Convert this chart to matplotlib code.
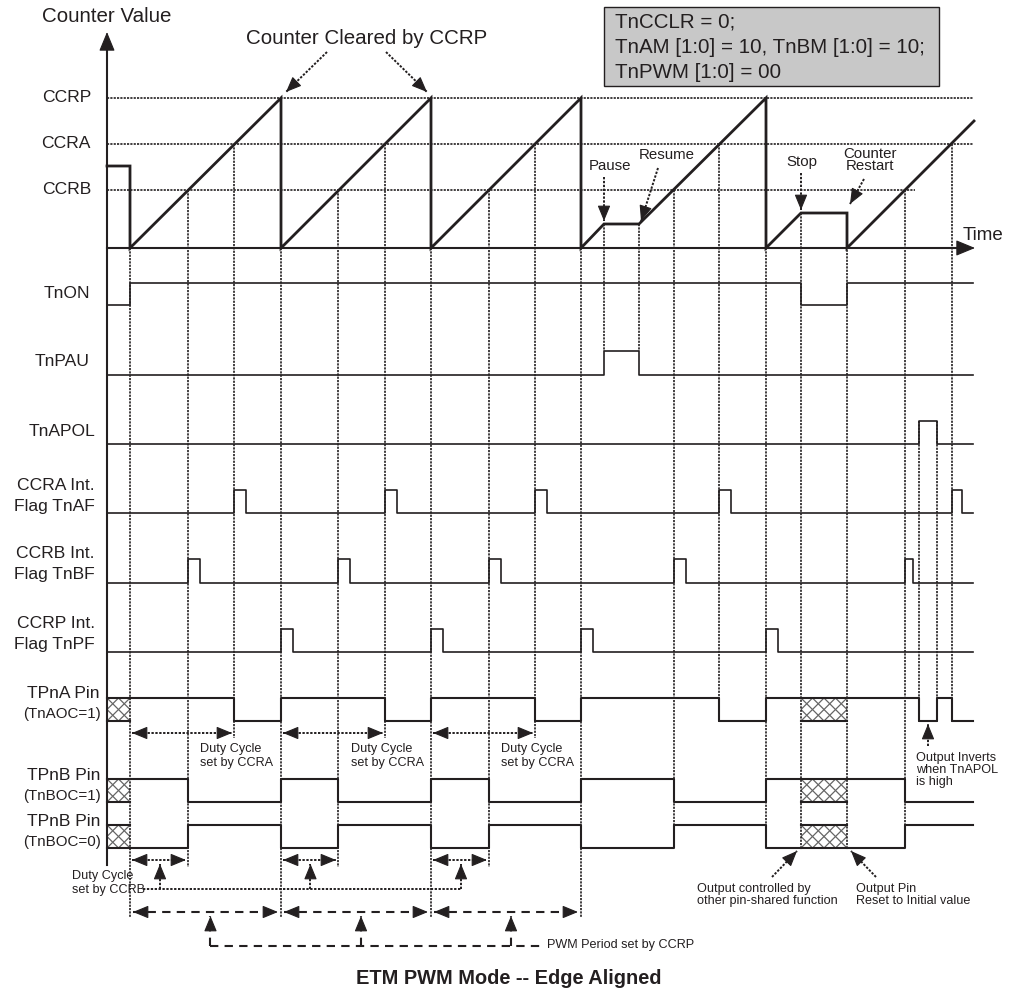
import matplotlib.pyplot as plt
from matplotlib.patches import Rectangle

plt.rcParams['font.family'] = ['Liberation Sans', 'DejaVu Sans']

ink = '#231f20'

# counter waveform: time / count value
cnt_t = [107, 130, 130, 281, 281, 431, 431, 581, 581, 604, 639, 766, 766, 801, 847, 847, 974]
cnt_v = [82, 82, 0, 150, 0, 150, 0, 150, 0, 24, 24, 150, 0, 35, 35, 0, 127]
level_names = ['CCRP', 'CCRA', 'CCRB']
level_vals = [150, 104, 58]
level_end = [973, 973, 915]

# event times
t_start = 130
ccrb_t = [188, 338, 489, 674, 905]
ccra_t = [234, 385, 535, 719, 952]
ccrp_t = [281, 431, 581, 766]
pause_t = [604, 639]
stop_t = [801, 847]
apol_t = [919, 937]
t_end = 973

# control / flag signals (edges, levels)
tnon_edges = [107, 130, 801, 847, 973]
tnon_levels = [0, 1, 0, 1]
tnpau_edges = [107, 604, 639, 973]
tnpau_levels = [0, 1, 0]
tnapol_edges = [107, 919, 937, 973]
tnapol_levels = [0, 1, 0]
tnaf_on = [234, 385, 535, 719, 952]
tnaf_off = [246, 397, 547, 731, 962]
tnbf_on = [188, 338, 489, 674, 905]
tnbf_off = [200, 350, 501, 686, 913]
tnpf_on = [281, 431, 581, 766]
tnpf_off = [293, 443, 593, 778]

# output pins (None = hatched / undefined)
tpna_edges = [107, 130, 234, 281, 385, 431, 535, 581, 719, 766, 801, 847, 919, 937, 952, 973]
tpna_levels = [None, 1, 0, 1, 0, 1, 0, 1, 0, 1, None, 1, 0, 1, 0]
tpnb1_edges = [107, 130, 188, 281, 338, 431, 489, 581, 674, 766, 801, 847, 905, 973]
tpnb1_levels = [None, 1, 0, 1, 0, 1, 0, 1, 0, 1, None, 1, 0]
tpnb0_levels = [None, 0, 1, 0, 1, 0, 1, 0, 1, 0, None, 0, 1]

fig = plt.figure(figsize=(10.12, 9.93), dpi=100)
ax = fig.add_axes([0, 0, 1, 1])
ax.set_xlim(0, 1012)
ax.set_ylim(993, 0)
ax.axis('off')

zero_y = 248


def cy(v):
    return zero_y - v


def head(x, y, dx, dy, size=12):
    ax.annotate('', xy=(x, y), xytext=(x - dx * 6, y - dy * 6),
                arrowprops=dict(arrowstyle='-|>,head_length=0.8,head_width=0.33',
                                color=ink, lw=0.8, shrinkA=0, shrinkB=0,
                                mutation_scale=size))


def dot_arrow(x0, y0, x1, y1, ls=(0, (1.2, 0.8)), lw=1.4, both=False):
    ax.plot([x0, x1], [y0, y1], color=ink, lw=lw, ls=ls)
    d = ((x1 - x0) ** 2 + (y1 - y0) ** 2) ** 0.5
    dx, dy = (x1 - x0) / d, (y1 - y0) / d
    head(x1, y1, dx, dy)
    if both:
        head(x0, y0, -dx, -dy)


def hatch_box(x0, x1, lo, hi, lw):
    box = Rectangle((x0, hi), x1 - x0, lo - hi, facecolor='white', edgecolor='none')
    ax.add_patch(box)
    h = lo - hi
    step = h / 2
    k = x0 - h
    while k < x1 + h:
        for ln in ax.plot([k, k + h], [lo, hi], color='#666666', lw=0.9):
            ln.set_clip_path(box)
        for ln in ax.plot([k, k + h], [hi, lo], color='#666666', lw=0.9):
            ln.set_clip_path(box)
        k += step
    ax.plot([x0, x1], [hi, hi], color=ink, lw=lw)
    ax.plot([x0, x1], [lo, lo], color=ink, lw=lw)


def wave(edges, levels, lo, hi, lw=1.2):
    xs, ys = [], []
    for i, lev in enumerate(levels):
        x0, x1 = edges[i], edges[i + 1]
        if lev is None:
            if xs:
                ax.plot(xs, ys, color=ink, lw=lw)
            xs, ys = [], []
            hatch_box(x0, x1, lo, hi, lw)
            continue
        y = hi if lev else lo
        xs += [x0, x1]
        ys += [y, y]
    if xs:
        ax.plot(xs, ys, color=ink, lw=lw)


def pulses(on, off, lo, hi, lw=1.2):
    edges = [107]
    levels = []
    for a, b in zip(on, off):
        edges += [a, b]
        levels += [0, 1]
    edges.append(t_end)
    levels.append(0)
    wave(edges, levels, lo, hi, lw)


dotted = (0, (1.3, 0.7))

# guide lines for compare levels
for name, v, xe in zip(level_names, level_vals, level_end):
    ax.plot([107, xe], [cy(v), cy(v)], color=ink, lw=1.2, ls=dotted)
    ax.text(91, cy(v), name, ha='right', va='center', fontsize=12.6, color=ink)

# vertical dotted event lines (x, top, bottom)
vlines = [(t_start, zero_y, 917)]
for i, t in enumerate(ccrb_t):
    vlines.append((t, cy(level_vals[2]), 867 if i < 3 else 848))
for i, t in enumerate(ccra_t):
    vlines.append((t, cy(level_vals[1]), 738 if i < 3 else 722))
for i, t in enumerate(ccrp_t):
    vlines.append((t, zero_y, 917 if i < 3 else 848))
for t in pause_t:
    vlines.append((t, cy(24), 351))
for t in stop_t:
    vlines.append((t, cy(35), 848))
for t in apol_t:
    vlines.append((t, 421, 722))

# signal rows
rows = [
    ('TnON', 305, 283, 90),
    ('TnPAU', 375, 351, 90),
    ('TnAPOL', 444, 421, 95),
    ('CCRA Int.\nFlag TnAF', 513, 490, 95),
    ('CCRB Int.\nFlag TnBF', 583, 559, 95),
    ('CCRP Int.\nFlag TnPF', 652, 629, 95),
]
for label, lo, hi, xr in rows:
    if '\n' in label:
        a, b = label.split('\n')
        ax.text(xr, hi - 5, a, ha='right', va='center', fontsize=12.6, color=ink)
        ax.text(xr, hi + 16, b, ha='right', va='center', fontsize=12.6, color=ink)
    else:
        ax.text(xr, (lo + hi) / 2 - 1, label, ha='right', va='center', fontsize=12.6, color=ink)

wave(tnon_edges, tnon_levels, 305, 283)
wave(tnpau_edges, tnpau_levels, 375, 351)
wave(tnapol_edges, tnapol_levels, 444, 421)
pulses(tnaf_on, tnaf_off, 513, 490)
pulses(tnbf_on, tnbf_off, 583, 559)
pulses(tnpf_on, tnpf_off, 652, 629)

wave(tpna_edges, tpna_levels, 721, 698, 1.5)
wave(tpnb1_edges, tpnb1_levels, 802, 779, 1.5)
wave(tpnb1_edges, tpnb0_levels, 848, 825, 1.5)

for x, y0, y1 in vlines:
    ax.plot([x, x], [y0, y1], color=ink, lw=1.2, ls=dotted)

pins = [('TPnA Pin', '(TnAOC=1)', 693, 714),
        ('TPnB Pin', '(TnBOC=1)', 775, 796),
        ('TPnB Pin', '(TnBOC=0)', 821, 842)]
for a, b, ya, yb in pins:
    ax.text(100, ya, a, ha='right', va='center', fontsize=12.6, color=ink)
    ax.text(101, yb, b, ha='right', va='center', fontsize=10.9, color=ink)

# axes
ax.plot([107, 107], [865, 40], color=ink, lw=1.5)
head(107, 32, 0, -1, 15)
ax.plot([107, 966], [zero_y, zero_y], color=ink, lw=1.5)
head(975, zero_y, 1, 0, 15)
ax.text(42, 17, 'Counter Value', ha='left', va='center', fontsize=14.8, color=ink)
ax.text(963, 235, 'Time', ha='left', va='center', fontsize=13.5, color=ink)

# counter
ax.plot(cnt_t, [cy(v) for v in cnt_v], color=ink, lw=2.0, solid_joinstyle='miter')

# annotations on counter
ax.text(367, 39, 'Counter Cleared by CCRP', ha='center', va='center', fontsize=14.8, color=ink)
dot_arrow(327, 52, 286, 92)
dot_arrow(386, 52, 427, 92)
ax.text(610, 166, 'Pause', ha='center', va='center', fontsize=10.8, color=ink)
dot_arrow(604, 177, 604, 221)
ax.text(667, 155, 'Resume', ha='center', va='center', fontsize=10.8, color=ink)
dot_arrow(658, 168, 641, 221)
ax.text(802, 162, 'Stop', ha='center', va='center', fontsize=10.8, color=ink)
dot_arrow(801, 173, 801, 210)
ax.text(870, 160, 'Counter\nRestart', ha='center', va='center', fontsize=10.8,
        color=ink, linespacing=0.9)
dot_arrow(864, 179, 850, 204)

# settings box
ax.add_patch(Rectangle((604, 7), 335, 79, facecolor='#c8c8c8', edgecolor=ink, lw=1.0))
box_lines = ['TnCCLR = 0;', 'TnAM [1:0] = 10, TnBM [1:0] = 10;', 'TnPWM [1:0] = 00']
for i, s in enumerate(box_lines):
    ax.text(615, 22 + 25.5 * i, s, ha='left', va='center', fontsize=14.8, color=ink)

# duty cycle CCRA
for t0, t1 in zip([t_start] + ccrp_t[:2], ccra_t[:3]):
    dot_arrow(t0 + 2, 733, t1 - 2, 733, both=True)
    ax.text(t1 - 34, 756, 'Duty Cycle\nset by CCRA', ha='left', va='center',
            fontsize=9.1, color=ink, linespacing=1.15)

# duty cycle CCRB
mids_b = []
for t0, t1 in zip([t_start] + ccrp_t[:2], ccrb_t[:3]):
    dot_arrow(t0 + 2, 860, t1 - 2, 860, both=True)
    m = (t0 + t1) / 2 + 1
    mids_b.append(m)
    dot_arrow(m, 889, m, 864)
ax.plot([143, mids_b[-1]], [889, 889], color=ink, lw=1.4, ls=(0, (1.2, 0.8)))
ax.text(72, 883, 'Duty Cycle\nset by CCRB', ha='left', va='center',
        fontsize=9.1, color=ink, linespacing=1.15)

# PWM period
dash = (0, (4, 3))
mids_p = []
for t0, t1 in zip([t_start] + ccrp_t[:2], ccrp_t[:3]):
    dot_arrow(t0 + 3, 912, t1 - 3, 912, ls=dash, lw=1.5, both=True)
    m = (t0 + t1) / 2 + 5
    mids_p.append(m)
    dot_arrow(m, 946, m, 916, ls=dash, lw=1.5)
ax.plot([mids_p[0], 545], [946, 946], color=ink, lw=1.5, ls=dash)
ax.text(547, 945, 'PWM Period set by CCRP', ha='left', va='center', fontsize=9.1, color=ink)

# other notes
dot_arrow(928, 746, 928, 724)
ax.text(916, 770, 'Output Inverts\nwhen TnAPOL\nis high', ha='left', va='center',
        fontsize=9.1, color=ink, linespacing=0.95)
dot_arrow(772, 877, 797, 851)
ax.text(697, 895, 'Output controlled by\nother pin-shared function', ha='left', va='center',
        fontsize=9.1, color=ink, linespacing=1.05)
dot_arrow(876, 877, 851, 851)
ax.text(856, 895, 'Output Pin\nReset to Initial value', ha='left', va='center',
        fontsize=9.1, color=ink, linespacing=1.05)

ax.text(509, 979, 'ETM PWM Mode -- Edge Aligned', ha='center', va='center',
        fontsize=14.4, fontweight='bold', color=ink)

fig.savefig('out.png', dpi=100, facecolor='white')
